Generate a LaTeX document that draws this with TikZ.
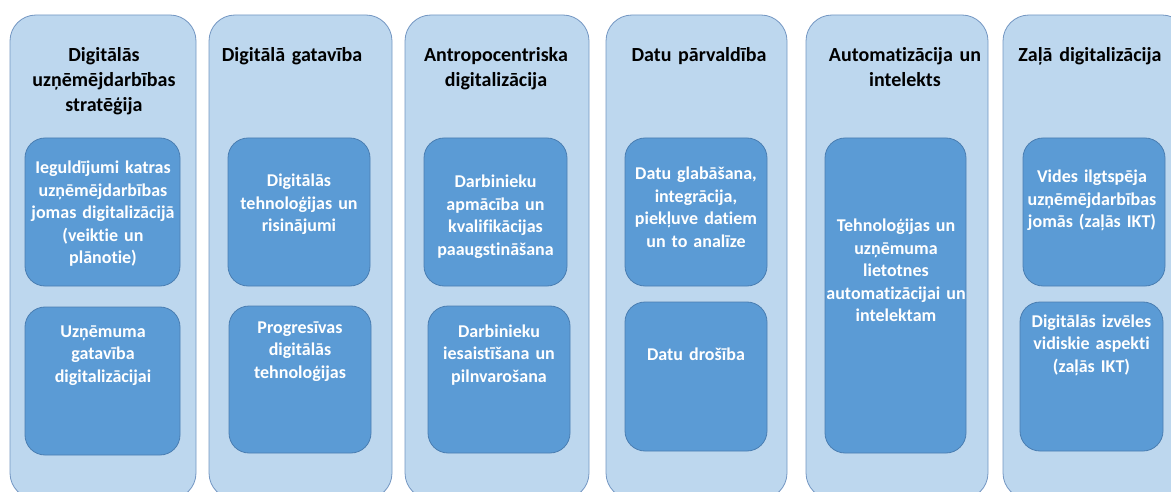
\documentclass[tikz,border=0pt]{standalone}
\usepackage{fontspec}
\setmainfont{Carlito}[Ligatures=NoCommon]
\definecolor{colfill}{HTML}{BDD7EE}
\definecolor{colline}{HTML}{7396C2}
\definecolor{boxfill}{HTML}{5B9BD5}
\definecolor{boxline}{HTML}{4A7EB2}

\begin{document}
\begin{tikzpicture}[x=1pt, y=-1pt,
    colbox/.style={draw=colline, fill=colfill, line width=0.8pt, rounded corners=26pt, minimum height=484pt, inner sep=0pt},
    itembox/.style={draw=boxline, fill=boxfill, line width=0.8pt, rounded corners=20pt, inner sep=0pt},
    coltitle/.style={anchor=base, align=center, text width=190pt, inner sep=0pt, font=\bfseries\fontsize{20}{25}\selectfont},
    itemtext/.style={anchor=base, align=center, text width=160pt, inner sep=0pt, text=white, font=\bfseries\fontsize{18}{22.5}\selectfont}]
        \clip (0, 0) rectangle (1171, 492);

        \node[colbox, minimum width=186pt] (c1) at (103, 257) {};
        \node[colbox, minimum width=183pt] (c2) at (300.5, 257) {};
        \node[colbox, minimum width=184pt] (c3) at (497, 257) {};
        \node[colbox, minimum width=181pt] (c4) at (696.5, 257) {};
        \node[colbox, minimum width=182pt] (c5) at (897, 257) {};
        \node[colbox, minimum width=185pt] (c6) at (1095.5, 257) {};

        \node[coltitle] (t1) at (104, 62) {Digitālās\\uzņēmējdarbības\\stratēģija};
        \node[coltitle] (t2) at (292, 62) {Digitālā gatavība};
        \node[coltitle] (t3) at (496, 62) {Antropocentriska\\digitalizācija};
        \node[coltitle] (t4) at (699, 62) {Datu pārvaldība};
        \node[coltitle] (t5) at (905, 62) {Automatizācija un\\intelekts};
        \node[coltitle] (t6) at (1090, 62) {Zaļā digitalizācija};

        \node[itembox, minimum width=155pt, minimum height=148pt] (b11) at (102.5, 212) {};
        \node[itembox, minimum width=155pt, minimum height=148pt] (b12) at (102.5, 381) {};
        \node[itembox, minimum width=142pt, minimum height=148pt] (b21) at (299, 212) {};
        \node[itembox, minimum width=142pt, minimum height=147pt] (b22) at (300, 379.5) {};
        \node[itembox, minimum width=143pt, minimum height=148pt] (b31) at (495.5, 212) {};
        \node[itembox, minimum width=142pt, minimum height=147pt] (b32) at (499, 379.5) {};
        \node[itembox, minimum width=142pt, minimum height=148pt] (b41) at (696, 212) {};
        \node[itembox, minimum width=142pt, minimum height=149pt] (b42) at (696, 376.5) {};
        \node[itembox, minimum width=141pt, minimum height=315pt] (b51) at (895.5, 295.5) {};
        \node[itembox, minimum width=142pt, minimum height=148pt] (b61) at (1094, 212) {};
        \node[itembox, minimum width=143pt, minimum height=149pt] (b62) at (1091.5, 376.5) {};

        \node[itemtext] (s11) at (103, 174) {Ieguldījumi katras\\uzņēmējdarbības\\jomas digitalizācijā\\(veiktie un\\plānotie)};
        \node[itemtext] (s12) at (103, 337) {Uzņēmuma\\gatavība\\digitalizācijai};
        \node[itemtext] (s21) at (299, 187) {Digitālās\\tehnoloģijas un\\risinājumi};
        \node[itemtext] (s22) at (300, 333) {Progresīvas\\digitālās\\tehnoloģijas};
        \node[itemtext] (s31) at (495.5, 188) {Darbinieku\\apmācība un\\kvalifikācijas\\paaugstināšana};
        \node[itemtext] (s32) at (499, 337) {Darbinieku\\iesaistīšana un\\pilnvarošana};
        \node[itemtext] (s41) at (696, 180) {Datu glabāšana,\\integrācija,\\piekļuve datiem\\un to analīze};
        \node[itemtext] (s42) at (696, 360) {Datu drošība};
        \node[itemtext] (s51) at (896, 232) {Tehnoloģijas un\\uzņēmuma\\lietotnes\\automatizācijai un\\intelektam};
        \node[itemtext] (s61) at (1092, 183) {Vides ilgtspēja\\uzņēmējdarbības\\jomās (zaļās IKT)};
        \node[itemtext] (s62) at (1091.5, 327) {Digitālās izvēles\\vidiskie aspekti\\(zaļās IKT)};

    \end{tikzpicture}
\end{document}
